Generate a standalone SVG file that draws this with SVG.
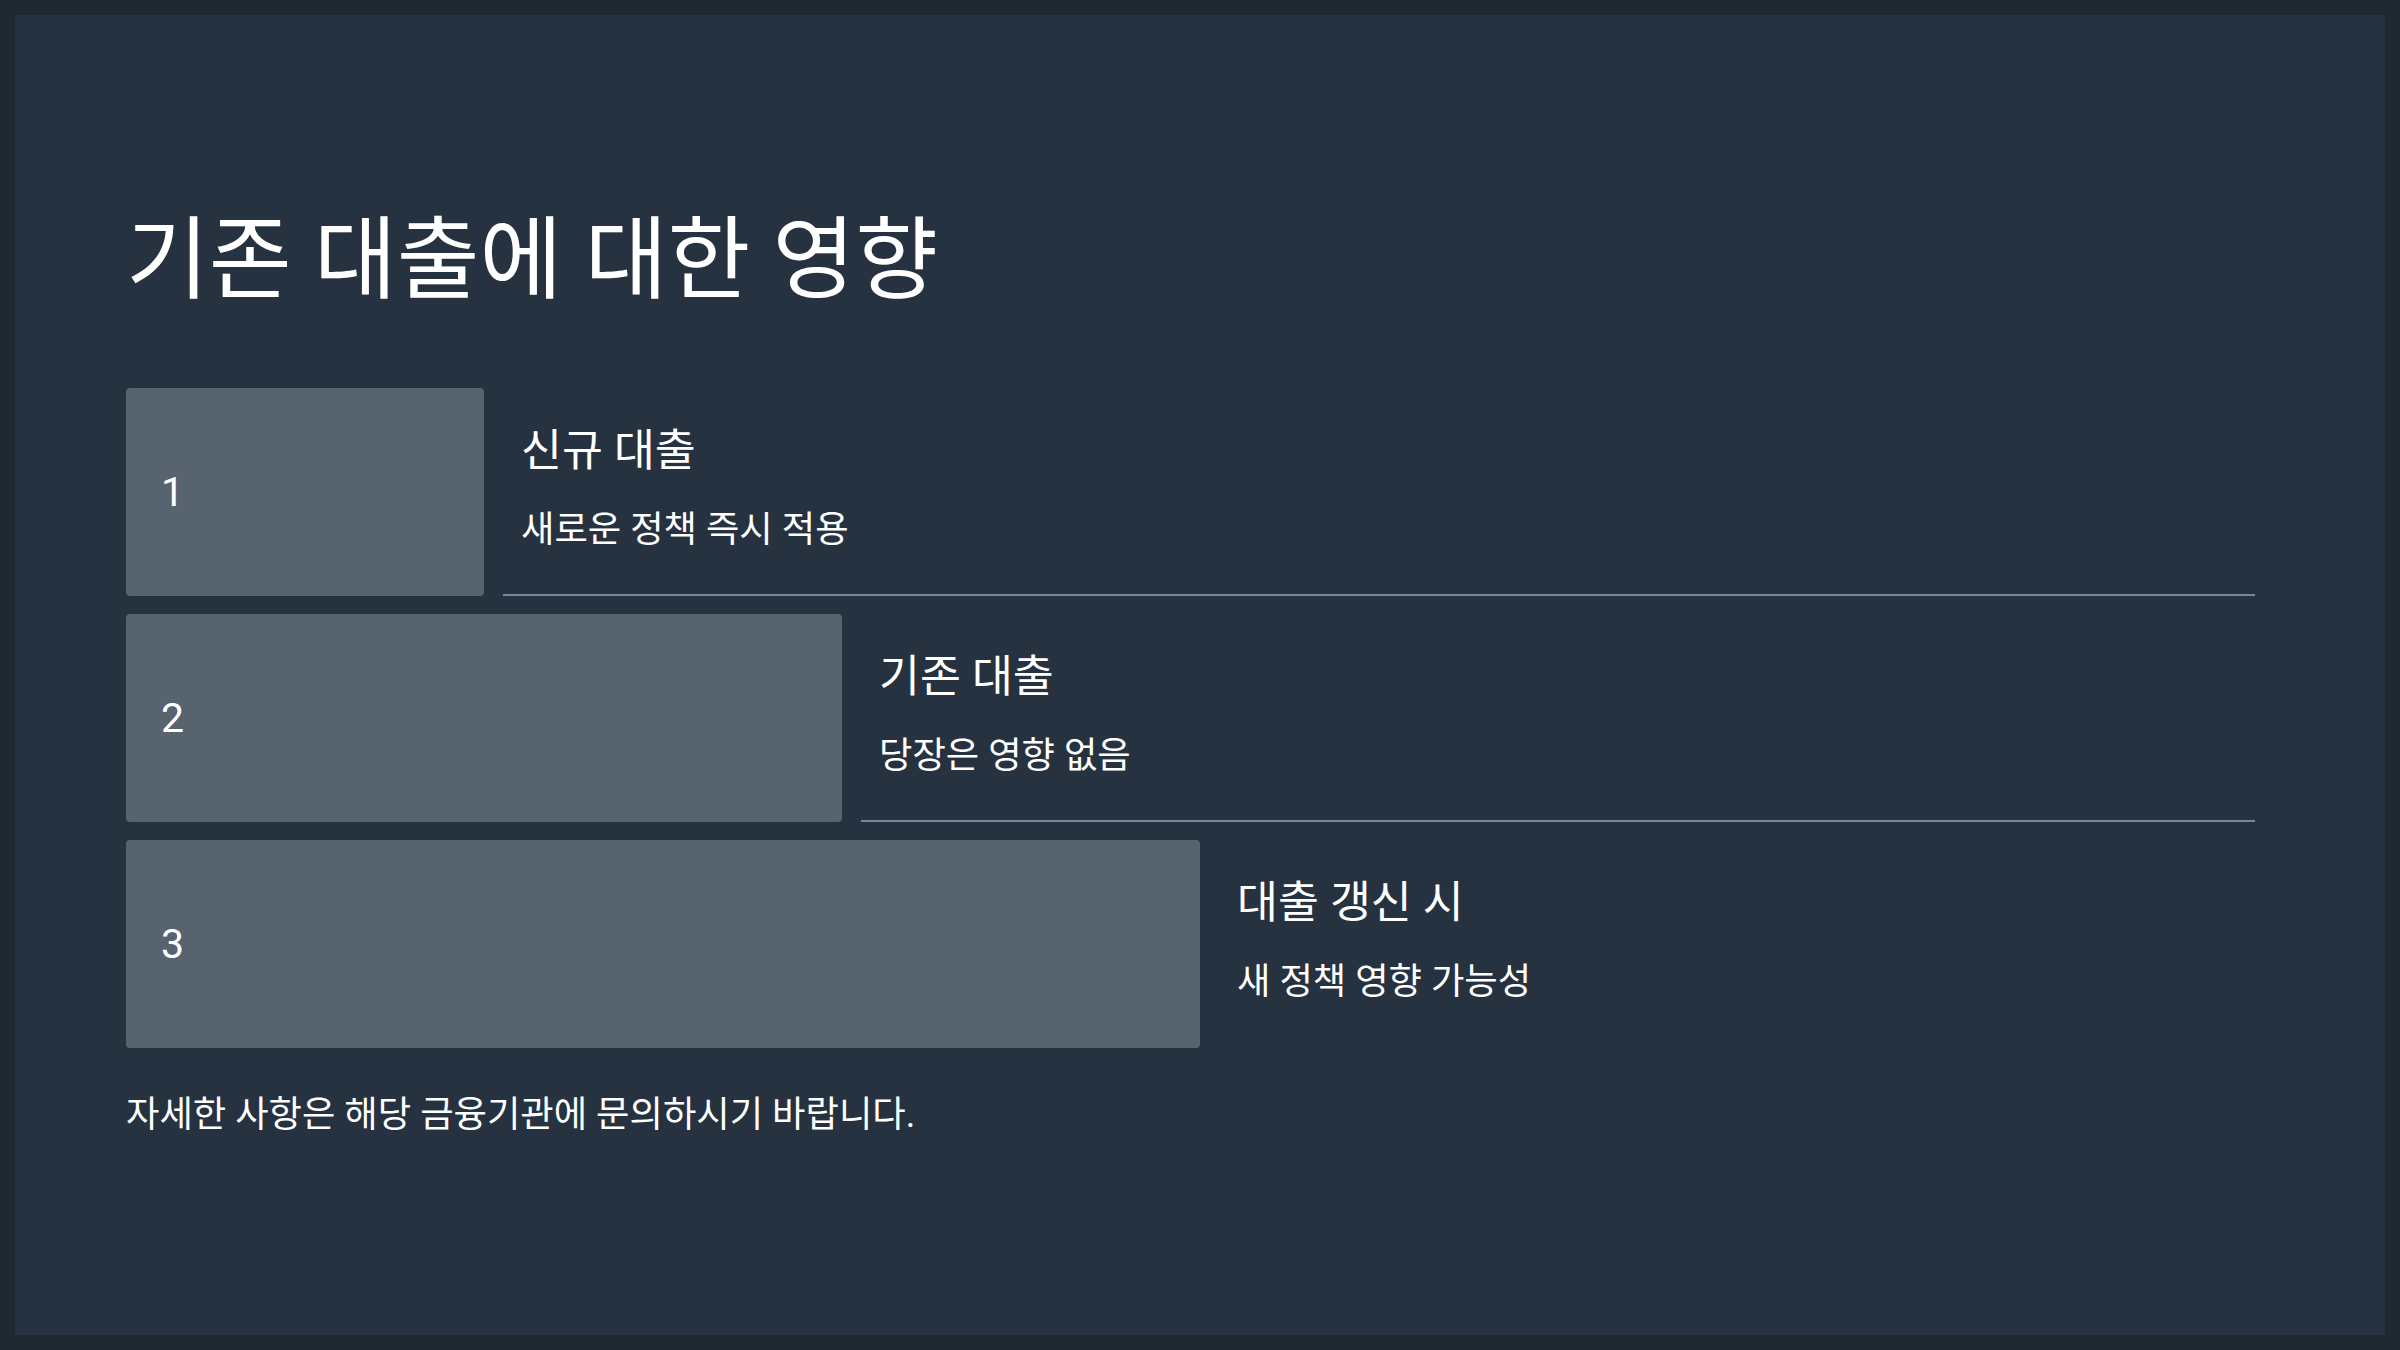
<svg xmlns="http://www.w3.org/2000/svg" width="2400" height="1350" viewBox="0 0 2400 1350">
  <style>
    .t { font-family: "Roboto", "Noto Sans CJK KR", sans-serif; fill: #ffffff; }
    .title { font-size: 90px; }
    .num { font-size: 41px; }
    .head { font-size: 44.5px; }
    .desc { font-size: 36.3px; }
    .foot { font-size: 36.3px; }
    .box { fill: #57636f; }
    .sep { stroke: #7b8794; stroke-width: 2; }
  </style>
  <rect x="0" y="0" width="2400" height="1350" fill="#1f2830"/>
  <rect x="15" y="15" width="2370" height="1320" fill="#263240"/>

  <text class="t title" x="126" y="291">기존 대출에 대한 영향</text>

  <g id="step1">
    <rect class="box" x="126" y="388" width="358" height="208" rx="4"/>
    <text class="t num" x="161" y="506">1</text>
    <text class="t head" x="521" y="466">신규 대출</text>
    <text class="t desc" x="521" y="542">새로운 정책 즉시 적용</text>
  </g>
  <g id="step2">
    <rect class="box" x="126" y="614" width="716" height="208" rx="4"/>
    <text class="t num" x="161" y="732">2</text>
    <text class="t head" x="879" y="692">기존 대출</text>
    <text class="t desc" x="879" y="768">당장은 영향 없음</text>
  </g>
  <g id="step3">
    <rect class="box" x="126" y="840" width="1074" height="208" rx="4"/>
    <text class="t num" x="161" y="958">3</text>
    <text class="t head" x="1237" y="918">대출 갱신 시</text>
    <text class="t desc" x="1237" y="994">새 정책 영향 가능성</text>
  </g>

  <g id="connectors">
    <line class="sep" x1="503" y1="595" x2="2255" y2="595"/>
    <line class="sep" x1="861" y1="821" x2="2255" y2="821"/>
  </g>

  <text class="t foot" x="126" y="1127">자세한 사항은 해당 금융기관에 문의하시기 바랍니다.</text>
</svg>
